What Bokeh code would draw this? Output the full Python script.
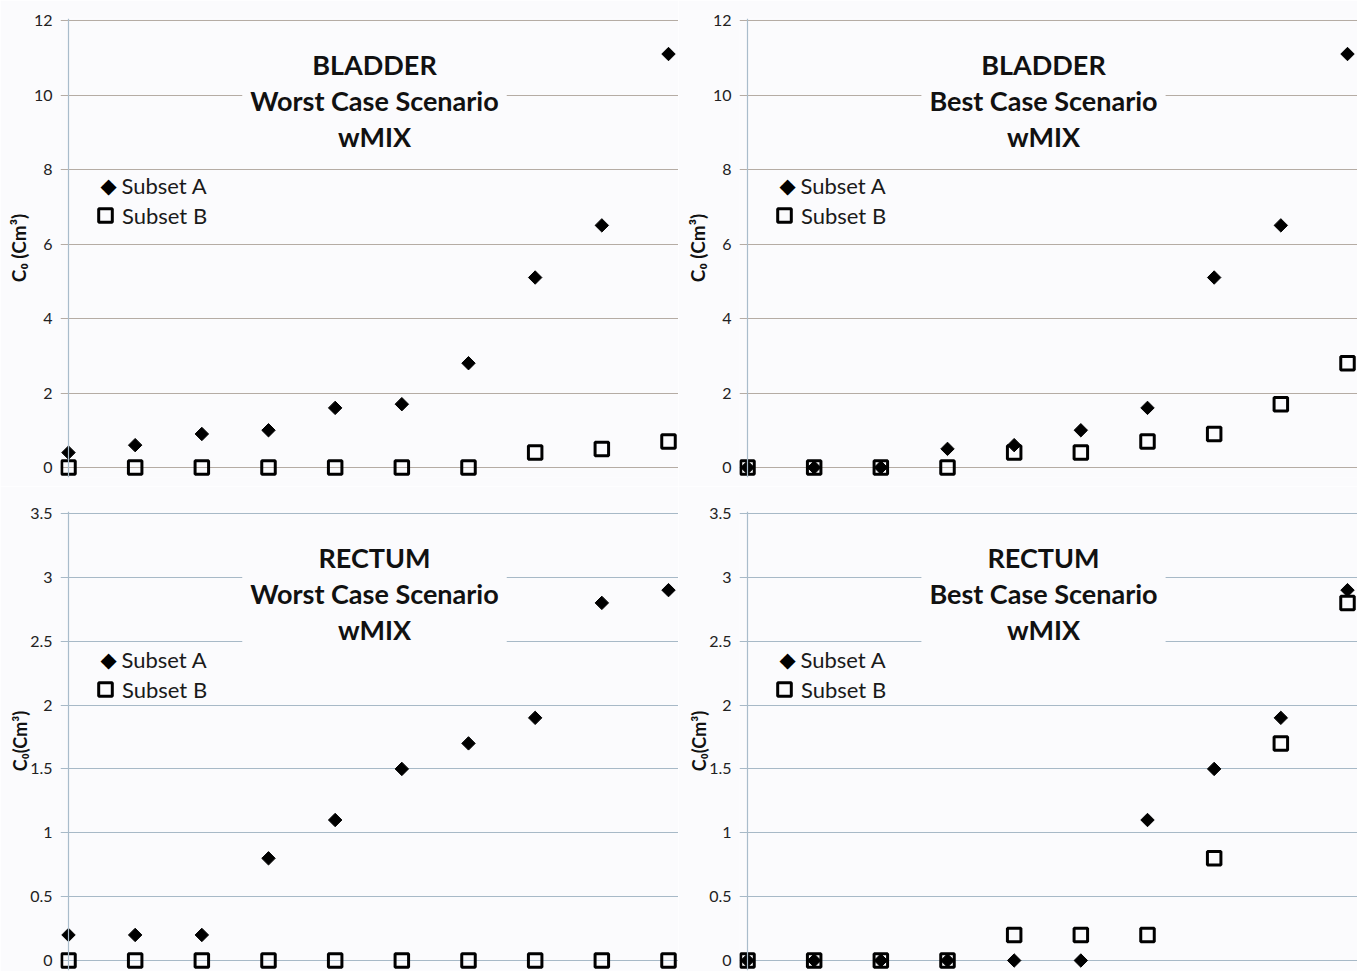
from bokeh.plotting import figure
from bokeh.layouts import gridplot
from bokeh.models import Range1d, Label, Legend, LegendItem, Span, FixedTicker
from bokeh.embed import file_html
from bokeh.resources import INLINE

# Case index along the horizontal direction (no labels are shown for it)
cases = [1, 2, 3, 4, 5, 6, 7, 8, 9, 10]

# Bladder C0 values (cm3)
bladder_worst_a = [0.4, 0.6, 0.9, 1.0, 1.6, 1.7, 2.8, 5.1, 6.5, 11.1]
bladder_worst_b = [0, 0, 0, 0, 0, 0, 0, 0.4, 0.5, 0.7]
bladder_best_a = [0, 0, 0, 0.5, 0.6, 1.0, 1.6, 5.1, 6.5, 11.1]
bladder_best_b = [0, 0, 0, 0, 0.4, 0.4, 0.7, 0.9, 1.7, 2.8]

# Rectum C0 values (cm3)
rectum_worst_a = [0.2, 0.2, 0.2, 0.8, 1.1, 1.5, 1.7, 1.9, 2.8, 2.9]
rectum_worst_b = [0, 0, 0, 0, 0, 0, 0, 0, 0, 0]
rectum_best_a = [0, 0, 0, 0, 0, 0, 1.1, 1.5, 1.9, 2.9]
rectum_best_b = [0, 0, 0, 0, 0.2, 0.2, 0.2, 0.8, 1.7, 2.8]

bladder_ticks = [0, 2, 4, 6, 8, 10, 12]
bladder_tick_labels = ["0", "2", "4", "6", "8", "10", "12"]
rectum_ticks = [0, 0.5, 1, 1.5, 2, 2.5, 3, 3.5]
rectum_tick_labels = ["0", "0.5", "1", "1.5", "2", "2.5", "3", "3.5"]

series_names = ["Subset A", "Subset B"]

FONT = "Lato"
BG = "#fbfbfd"
AXIS_LINE = "#a9bccb"
GRID_BLADDER = "#b5aca4"
GRID_RECTUM = "#a7b9c7"

PX_PER_CASE = 600 / 9


def panel(title, a_vals, b_vals, ticks, tick_labels, grid_color,
          left_side, top_row, ylabel, ylabel_size, ylabel_standoff, title_x):
    ymax = ticks[-1]
    px_per_unit = 447 / ymax
    p = figure(
        width=678 if left_side else 679,
        height=486 if top_row else 485,
        x_range=Range1d(cases[0] - 8 / PX_PER_CASE, cases[-1] + 10 / PX_PER_CASE),
        y_range=Range1d(-10 / px_per_unit, ymax + 2 / px_per_unit),
        min_border_left=60 if left_side else 61,
        min_border_right=0,
        min_border_top=18 if top_row else 25,
        min_border_bottom=9 if top_row else 1,
        output_backend="svg",
        toolbar_location=None,
        background_fill_color=BG,
        border_fill_color=BG,
        outline_line_color=None,
    )
    p.xaxis.visible = False
    p.xgrid.visible = False

    p.yaxis.ticker = FixedTicker(ticks=ticks)
    p.yaxis.major_label_overrides = {t: s for t, s in zip(ticks, tick_labels)}
    p.yaxis.axis_line_color = None
    p.yaxis.major_tick_line_color = None
    p.yaxis.major_tick_out = 0
    p.yaxis.major_tick_in = 0
    p.yaxis.minor_tick_line_color = None
    p.yaxis.minor_tick_out = 0
    p.yaxis.major_label_standoff = 8
    p.yaxis.major_label_text_font = FONT
    p.yaxis.major_label_text_font_size = "16px"
    p.yaxis.major_label_text_color = "#222222"
    p.yaxis.axis_label = ylabel
    p.yaxis.axis_label_text_font = FONT
    p.yaxis.axis_label_text_font_size = ylabel_size
    p.yaxis.axis_label_text_font_style = "bold"
    p.yaxis.axis_label_text_color = "#111111"
    p.yaxis.axis_label_standoff = ylabel_standoff

    p.ygrid.ticker = FixedTicker(ticks=ticks)
    p.ygrid.grid_line_color = grid_color
    p.ygrid.grid_line_width = 1.2

    # vertical axis line through the first case
    p.add_layout(Span(location=cases[0], dimension="height",
                      line_color=AXIS_LINE, line_width=1.2))

    p.scatter(cases, a_vals, marker="square", angle=0.785398, size=9.5,
              fill_color="black", line_color="black", line_width=1)
    rb = p.scatter(cases, b_vals, marker="square", size=13.5,
                   fill_color=None, line_color="black", line_width=3)

    # legend: filled diamond entry drawn as text, hollow square entry as a Legend
    row_a = 292 if top_row else 311
    p.add_layout(Label(x=48, y=row_a, x_units="screen", y_units="screen",
                       text="\u25c6", text_align="center", text_baseline="middle",
                       text_font="DejaVu Sans", text_font_size="21px",
                       text_color="black"))
    p.add_layout(Label(x=61, y=row_a, x_units="screen", y_units="screen",
                       text=series_names[0], text_align="left", text_baseline="middle",
                       text_font=FONT, text_font_size="22px", text_color="#1a1a1a"))

    leg_b = Legend(items=[LegendItem(label=series_names[1], renderers=[rb])],
                   location=(28, 245 if top_row else 264),
                   glyph_width=34, glyph_height=34, label_height=34,
                   label_standoff=0, padding=0, margin=0, spacing=0,
                   background_fill_alpha=0, border_line_alpha=0,
                   label_text_font=FONT, label_text_font_size="22px",
                   label_text_color="#1a1a1a")
    p.add_layout(leg_b)

    p.add_layout(Label(
        x=title_x, y=377, x_units="screen", y_units="screen",
        text=title, text_align="center", text_baseline="middle",
        text_font=FONT, text_font_style="bold", text_font_size="27px",
        text_line_height=1.1, text_color="#111111",
        background_fill_color=BG, padding=8,
    ))
    return p


tl = panel("BLADDER\nWorst Case Scenario\nwMIX", bladder_worst_a, bladder_worst_b,
           bladder_ticks, bladder_tick_labels, GRID_BLADDER, True, True,
           "C\u2080 (Cm\u00b3)", "19px", 1, 314)
tr = panel("BLADDER\nBest Case Scenario\nwMIX", bladder_best_a, bladder_best_b,
           bladder_ticks, bladder_tick_labels, GRID_BLADDER, False, True,
           "C\u2080 (Cm\u00b3)", "19px", 1, 304)
bl = panel("RECTUM\nWorst Case Scenario\nwMIX", rectum_worst_a, rectum_worst_b,
           rectum_ticks, rectum_tick_labels, GRID_RECTUM, True, False,
           "C\u2080(Cm\u00b3)", "18px", -4, 314)
br = panel("RECTUM\nBest Case Scenario\nwMIX", rectum_best_a, rectum_best_b,
           rectum_ticks, rectum_tick_labels, GRID_RECTUM, False, False,
           "C\u2080(Cm\u00b3)", "18px", -4, 304)

grid = gridplot([[tl, tr], [bl, br]], toolbar_location=None)

with open("out.html", "w") as f:
    f.write(file_html(grid, INLINE))
